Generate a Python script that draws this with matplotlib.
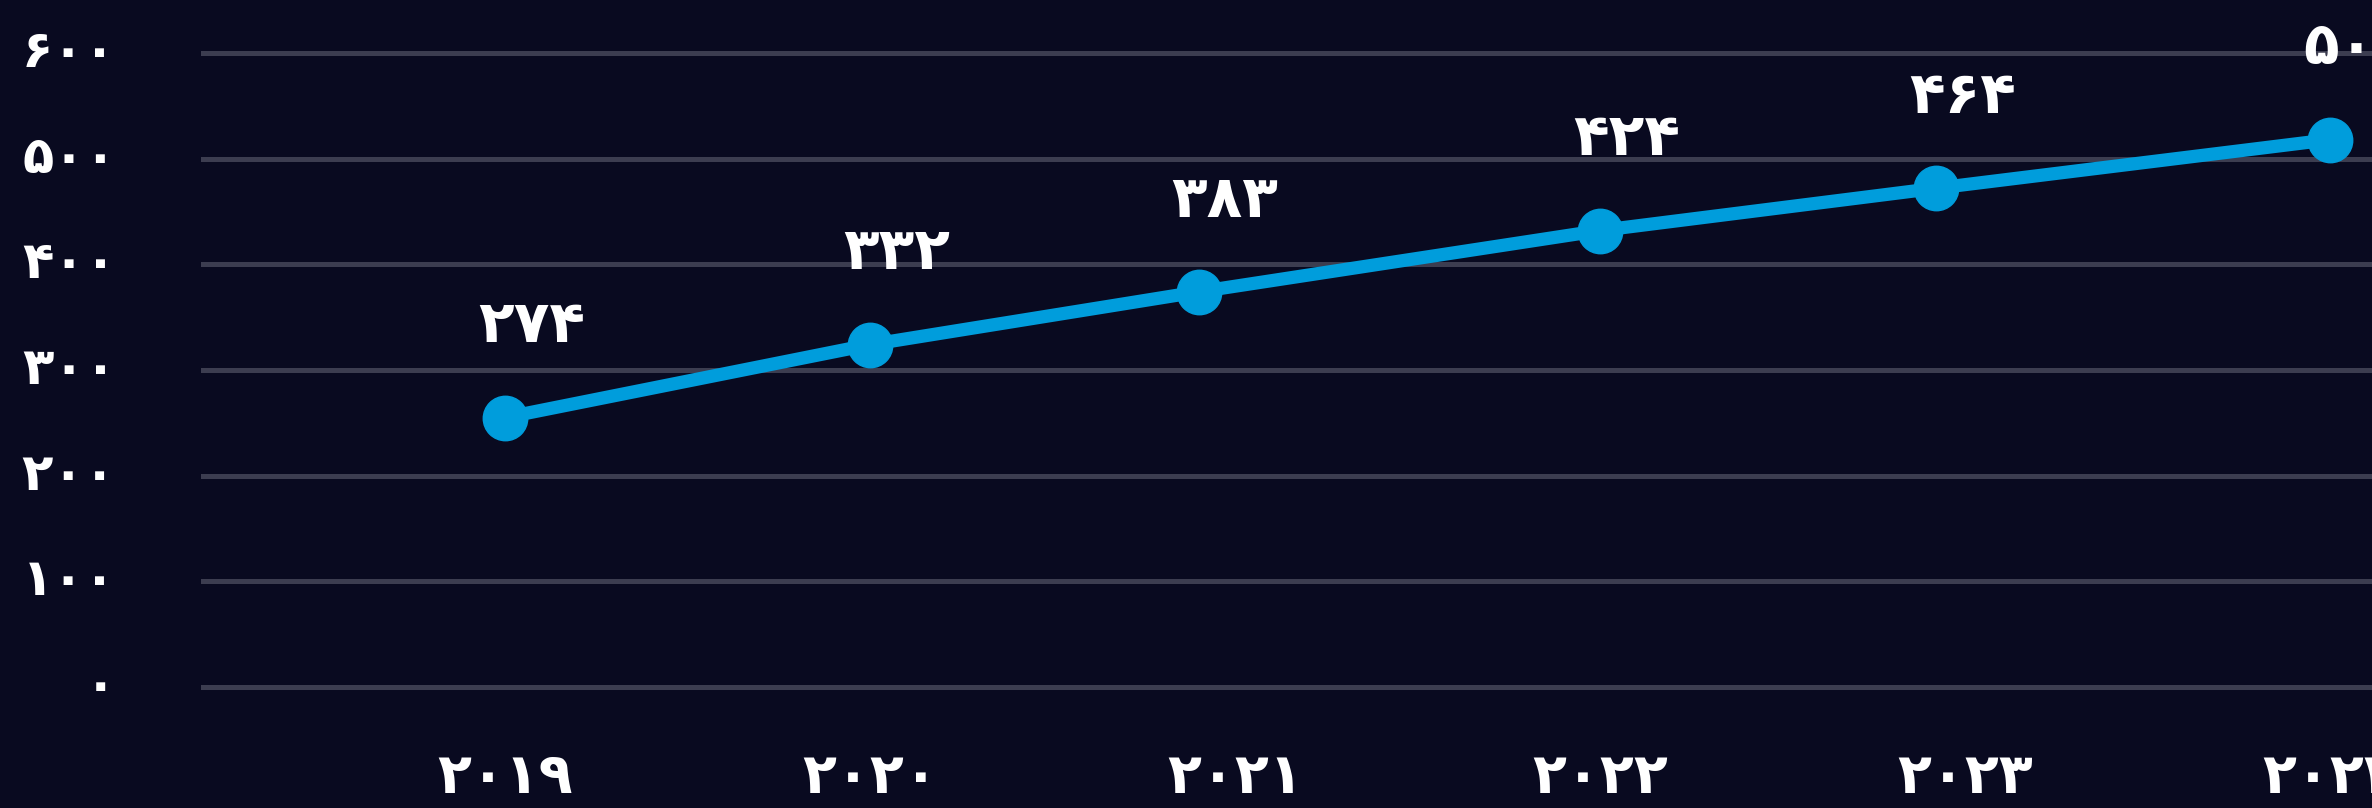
import matplotlib
matplotlib.use("Agg")
import matplotlib.pyplot as plt
from matplotlib.transforms import blended_transform_factory

# ---- data ----
years = [2019, 2020, 2021, 2022, 2023, 2024]
year_labels = ["۲۰۱۹", "۲۰۲۰", "۲۰۲۱", "۲۰۲۲", "۲۰۲۳", "۲۰۲۴"]
# horizontal placement of the markers (slightly irregular in the original)
point_x = [2019.0, 2020.0, 2020.9, 2022.0, 2022.92, 2024.0]
# plotted heights of the markers as read against the gridlines
point_y = [255, 324, 374, 432, 472, 518]
value_labels = ["۲۷۴", "۳۳۲", "۳۸۳", "۴۲۴", "۴۶۴", "۵۰۵"]
y_ticks = [0, 100, 200, 300, 400, 500, 600]
y_tick_labels = ["۰", "۱۰۰", "۲۰۰", "۳۰۰", "۴۰۰", "۵۰۰", "۶۰۰"]

BG = "#090a20"
LINE = "#009ddc"
GRID = "#3c3d50"
W, H = 2372, 808
DPI = 100

plt.rcParams['font.family'] = ['DejaVu Sans']
fig = plt.figure(figsize=(W / DPI, H / DPI), dpi=DPI, facecolor=BG)
pad_px = 6
ax = fig.add_axes([201 / W, 1 - (687 + pad_px) / H, 1 - 201 / W, (687 - 53 + 2 * pad_px) / H])
ax.set_facecolor(BG)

ax.set_xlim(2018.167, 2024.115)
upp = 600 / (687 - 53)
ax.set_ylim(-pad_px * upp, 600 + pad_px * upp)

for s in ax.spines.values():
    s.set_visible(False)

ax.set_yticks(y_ticks)
ax.set_yticklabels([])
ax.yaxis.grid(True, color=GRID, linewidth=3.6)
ax.set_axisbelow(True)
ax.tick_params(axis='y', length=0)

tr = blended_transform_factory(fig.transFigure, ax.transData)
for v, lab in zip(y_ticks, y_tick_labels):
    ax.text(116 / W, v, lab, transform=tr, ha='right', va='center',
            color='white', fontsize=37, fontweight='bold')

ax.set_xticks(years)
ax.set_xticklabels(year_labels, color='white', fontsize=40, fontweight='bold')
ax.tick_params(axis='x', length=0, pad=42)

ax.plot(point_x, point_y, color=LINE, linewidth=9.5, marker='o', markersize=32,
        markerfacecolor=LINE, markeredgecolor=LINE, solid_capstyle='round', zorder=3, clip_on=False)

for x, y, lab in zip(point_x, point_y, value_labels):
    ax.annotate(lab, (x, y), xytext=(19, 66), textcoords='offset points',
                ha='center', va='center', color='white', fontsize=42, fontweight='bold',
                annotation_clip=False)

fig.savefig("out.png", dpi=DPI, facecolor=BG)
